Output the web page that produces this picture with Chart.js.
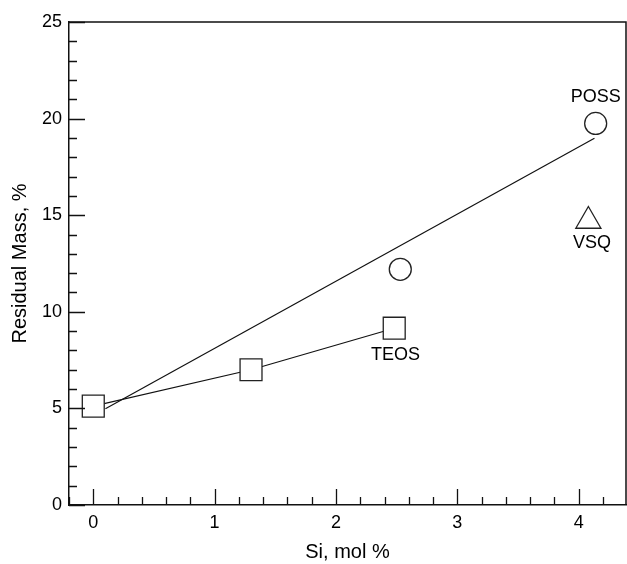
<!DOCTYPE html>
<html>
<head>
<meta charset="utf-8">
<script src="https://cdn.jsdelivr.net/npm/chart.js@4"></script>
<style>
  body { margin: 0; background: #fff; }
  canvas { display: block; }
</style>
</head>
<body>
<canvas id="massChart" width="627" height="564"></canvas>
<script>
// Data
const teosX = [0, 1.3, 2.48];
const teosY = [5.12, 7.0, 9.15];
const possX = [2.53, 4.14];
const possY = [12.2, 19.75];
const vsqX = [4.08];
const vsqY = [14.7];
// fitted line drawn through the POSS points (end points as seen)
const fitX = [0.1, 4.13];
const fitY = [4.98, 18.98];

// Axis ticks
const xTickValues = [0, 1, 2, 3, 4];
const yTickValues = [0, 5, 10, 15, 20, 25];
const xMinorStep = 0.2;
const yMinorStep = 1;

// Series labels drawn next to the marks
const seriesLabels = [
    { text: 'POSS', x: 4.14, y: 21.1 },
    { text: 'VSQ', x: 4.11, y: 13.55 },
    { text: 'TEOS', x: 2.49, y: 7.76 }
];

const FONT = "'Liberation Sans', Arial, Helvetica, sans-serif";
Chart.defaults.font.family = FONT;
Chart.defaults.color = '#000';

function toPoints(xs, ys) {
    return xs.map((x, i) => ({ x: x, y: ys[i] }));
}

// Frame on top and right, inward ticks on left and bottom
const framePlugin = {
    id: 'frame',
    afterDraw(chart) {
        const { ctx, chartArea: a, scales } = chart;
        ctx.save();
        ctx.strokeStyle = '#111';
        ctx.lineWidth = 1.5;
        ctx.beginPath();
        ctx.moveTo(a.left, a.top);
        ctx.lineTo(a.right, a.top);
        ctx.lineTo(a.right, a.bottom);
        ctx.stroke();

        ctx.lineWidth = 1.3;
        ctx.beginPath();
        const xs = scales.x;
        for (let v = -0.2; v <= xs.max + 1e-6; v += xMinorStep) {
            const val = Math.round(v * 10) / 10;
            const px = Math.round(xs.getPixelForValue(val)) + 0.5;
            const len = xTickValues.includes(val) ? 16 : 8;
            ctx.moveTo(px, a.bottom);
            ctx.lineTo(px, a.bottom - len);
        }
        const ys = scales.y;
        for (let v = ys.min; v <= ys.max; v += yMinorStep) {
            const py = Math.round(ys.getPixelForValue(v)) + 0.5;
            const len = yTickValues.includes(v) ? 16 : 8;
            ctx.moveTo(a.left, py);
            ctx.lineTo(a.left + len, py);
        }
        ctx.stroke();
        ctx.restore();
    }
};

const labelPlugin = {
    id: 'seriesLabels',
    afterDatasetsDraw(chart) {
        const { ctx, scales } = chart;
        ctx.save();
        ctx.font = '18px ' + FONT;
        ctx.fillStyle = '#000';
        ctx.textAlign = 'center';
        ctx.textBaseline = 'middle';
        seriesLabels.forEach(l => {
            ctx.fillText(l.text, scales.x.getPixelForValue(l.x), scales.y.getPixelForValue(l.y));
        });
        ctx.restore();
    }
};

const markerStyle = {
    backgroundColor: '#fff',
    borderColor: '#222',
    borderWidth: 1.3
};

new Chart(document.getElementById('massChart'), {
    type: 'scatter',
    data: {
        datasets: [
            {
                label: 'POSS fit',
                data: toPoints(fitX, fitY),
                showLine: true,
                borderColor: '#111',
                borderWidth: 1.2,
                pointRadius: 0,
                order: 3
            },
            {
                label: 'TEOS',
                data: toPoints(teosX, teosY),
                showLine: true,
                borderColor: '#111',
                borderWidth: 1.2,
                pointStyle: 'rect',
                pointRadius: 15.5,
                pointBackgroundColor: '#fff',
                pointBorderColor: '#222',
                pointBorderWidth: 1.3,
                order: 1
            },
            {
                label: 'POSS',
                data: toPoints(possX, possY),
                pointStyle: 'circle',
                pointRadius: 11,
                ...markerStyle,
                order: 1
            },
            {
                label: 'VSQ',
                data: toPoints(vsqX, vsqY),
                pointStyle: 'triangle',
                pointRadius: 14.5,
                ...markerStyle,
                order: 1
            }
        ]
    },
    options: {
        responsive: false,
        animation: false,
        layout: { autoPadding: false, padding: { top: 22, right: 1, left: 0, bottom: 0 } },
        plugins: {
            legend: { display: false },
            tooltip: { enabled: false }
        },
        scales: {
            x: {
                type: 'linear',
                min: -0.2,
                max: 4.39,
                afterBuildTicks: s => { s.ticks = xTickValues.map(v => ({ value: v })); },
                afterFit: s => { s.height = 59; },
                grid: { display: false, drawTicks: false },
                border: { display: true, color: '#111', width: 1.5 },
                ticks: { padding: 7, font: { size: 18 }, color: '#000' },
                title: {
                    display: true,
                    text: 'Si, mol %',
                    font: { size: 20 },
                    color: '#000',
                    padding: { top: 0, bottom: 0 }
                }
            },
            y: {
                type: 'linear',
                min: 0,
                max: 25,
                afterBuildTicks: s => { s.ticks = yTickValues.map(v => ({ value: v })); },
                afterFit: s => { s.width = 69; },
                grid: { display: false, drawTicks: false },
                border: { display: true, color: '#111', width: 1.5 },
                ticks: { padding: 7, font: { size: 18 }, color: '#000' },
                title: {
                    display: true,
                    text: 'Residual Mass, %',
                    font: { size: 20 },
                    color: '#000',
                    padding: { top: 8, bottom: 0 }
                }
            }
        }
    },
    plugins: [framePlugin, labelPlugin]
});
</script>
</body>
</html>
